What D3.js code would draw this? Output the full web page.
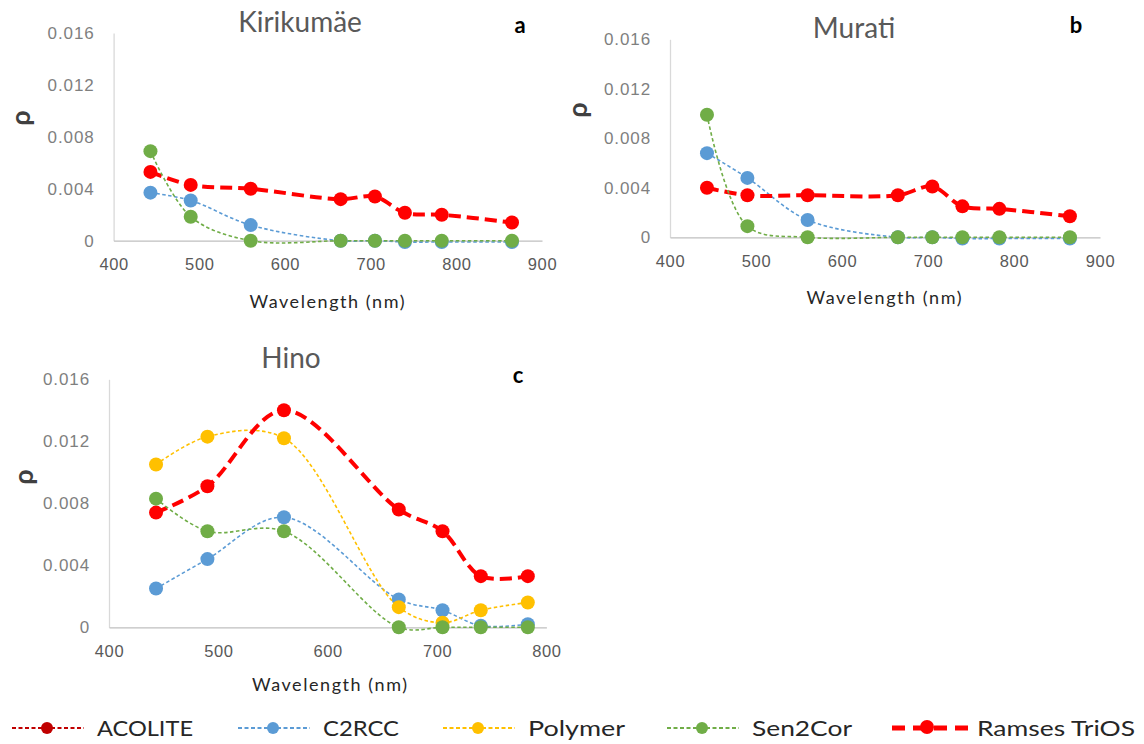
<!DOCTYPE html>
<html><head><meta charset="utf-8">
<script src="https://cdn.jsdelivr.net/npm/d3@7"></script>
<style>
body{margin:0;background:#fff;}
svg{display:block;font-family:Lato,"Open Sans",sans-serif;}
</style></head>
<body><svg id="c" width="1144" height="744"></svg>
<script>
// ---- data ----
const wavelengthsAB = [443, 490, 560, 665, 705, 740, 783, 865];
const wavelengthsC = [443, 490, 560, 665, 705, 740, 783];
const yTicks = [0, 0.004, 0.008, 0.012, 0.016];
const yTickLabels = ["0", "0.004", "0.008", "0.012", "0.016"];
const xTicksAB = [400, 500, 600, 700, 800, 900];
const xTicksC = [400, 500, 600, 700, 800];

const seriesNames = ["ACOLITE", "C2RCC", "Polymer", "Sen2Cor", "Ramses TriOS"];
const seriesColors = ["#C00000", "#5B9BD5", "#FFC000", "#70AD47", "#FF0000"];

// Kirikumäe
const kiriC2RCC = [0.0037, 0.0031, 0.0012, 0.0000, 0.0000, -0.0001, -0.0001, -0.0001];
const kiriSen2Cor = [0.0069, 0.00185, 0.0000, 0.0000, 0.0000, 0.0000, 0.0000, 0.0000];
const kiriRamses = [0.0053, 0.0043, 0.0040, 0.0032, 0.0034, 0.00215, 0.0020, 0.0014];
// Murati
const muraC2RCC = [0.0068, 0.0048, 0.0014, 0.0000, 0.0000, -0.0001, -0.0001, -0.0001];
const muraSen2Cor = [0.0099, 0.0009, 0.0000, 0.0000, 0.0000, 0.0000, 0.0000, 0.0000];
const muraRamses = [0.0040, 0.0034, 0.0034, 0.0034, 0.0041, 0.0025, 0.0023, 0.0017];
// Hino
const hinoC2RCC = [0.0025, 0.0044, 0.0071, 0.0018, 0.0011, 0.0001, 0.0002];
const hinoPolymer = [0.0105, 0.0123, 0.0122, 0.0013, 0.0003, 0.0011, 0.0016];
const hinoSen2Cor = [0.0083, 0.0062, 0.0062, 0.0000, 0.0000, 0.0000, 0.0000];
const hinoRamses = [0.0074, 0.0091, 0.0140, 0.0076, 0.0062, 0.0033, 0.0033];

const svg = d3.select("#c");

function panel(cfg) {
  const x = d3.scaleLinear().domain(cfg.xDomain).range([cfg.x0, cfg.x1]);
  const y = d3.scaleLinear().domain([0, 0.016]).range([cfg.y0, cfg.y1]);
  const g = svg.append("g");

  const ya = g.append("g").attr("transform", `translate(${cfg.x0},0)`)
    .call(d3.axisLeft(y).tickValues(yTicks).tickFormat((d, i) => yTickLabels[i]).tickSize(0).tickPadding(19));
  ya.select(".domain").attr("stroke", "#d9d9d9").attr("stroke-width", 1.3);
  ya.selectAll("text").attr("fill", "#7f7f7f").attr("font-size", 17).attr("letter-spacing", 0.9);

  const xa = g.append("g").attr("transform", `translate(0,${cfg.y0})`)
    .call(d3.axisBottom(x).tickValues(cfg.xTicks).tickSize(0).tickPadding(18));
  xa.select(".domain").attr("stroke", "#bfbfbf").attr("stroke-width", 1.3);
  xa.selectAll("text").attr("fill", "#595959").attr("font-size", 16.5).attr("letter-spacing", 0.6);

  g.append("text").attr("x", cfg.titleX).attr("y", cfg.titleY).attr("text-anchor", "middle")
    .attr("fill", "#595959").attr("font-size", 28).text(cfg.title);
  g.append("text").attr("x", cfg.letterX).attr("y", cfg.letterY).attr("text-anchor", "middle")
    .attr("fill", "#000").attr("font-size", 22).attr("font-weight", "bold").text(cfg.letter);
  g.append("text").attr("transform", `translate(${cfg.rhoX},${cfg.rhoY}) rotate(-90)`).attr("text-anchor", "middle")
    .attr("fill", "#404040").attr("font-size", 27).attr("font-weight", "bold").text("ρ");
  g.append("text").attr("x", cfg.xlabX).attr("y", cfg.xlabY).attr("text-anchor", "middle")
    .attr("fill", "#262626").attr("font-size", 18).attr("textLength", 155).attr("lengthAdjust", "spacing")
    .text("Wavelength (nm)");

  const line = d3.line().x(d => x(d[0])).y(d => y(d[1])).curve(d3.curveCatmullRom.alpha(0.5));
  cfg.series.forEach(s => {
    const pts = cfg.wl.map((w, i) => [w, s.values[i]]);
    const thick = s.name === "Ramses TriOS";
    g.append("path").datum(pts).attr("d", line).attr("fill", "none")
      .attr("stroke", s.color).attr("stroke-width", thick ? 4 : 1.6)
      .attr("stroke-dasharray", thick ? "12,6" : "3.5,2.5");
    g.selectAll(null).data(pts).enter().append("circle")
      .attr("cx", d => x(d[0])).attr("cy", d => y(d[1])).attr("r", cfg.r)
      .attr("fill", s.color);
  });
}

const col = n => seriesColors[seriesNames.indexOf(n)];

panel({
  xDomain: [400, 900], x0: 113.6, x1: 542, y0: 240.7, y1: 33, xTicks: xTicksAB, wl: wavelengthsAB,
  title: "Kirikumäe", titleX: 300, titleY: 32, letter: "a", letterX: 520, letterY: 33,
  rhoX: 30, rhoY: 118, xlabX: 327, xlabY: 308, r: 7,
  series: [
    {name: "C2RCC", color: col("C2RCC"), values: kiriC2RCC},
    {name: "Ramses TriOS", color: col("Ramses TriOS"), values: kiriRamses},
    {name: "Sen2Cor", color: col("Sen2Cor"), values: kiriSen2Cor}
  ]
});

panel({
  xDomain: [400, 900], x0: 670, x1: 1100, y0: 237.3, y1: 39.3, xTicks: xTicksAB, wl: wavelengthsAB,
  title: "Murati", titleX: 854, titleY: 38, letter: "b", letterX: 1076, letterY: 33,
  rhoX: 587, rhoY: 110, xlabX: 884, xlabY: 304, r: 7,
  series: [
    {name: "C2RCC", color: col("C2RCC"), values: muraC2RCC},
    {name: "Ramses TriOS", color: col("Ramses TriOS"), values: muraRamses},
    {name: "Sen2Cor", color: col("Sen2Cor"), values: muraSen2Cor}
  ]
});

panel({
  xDomain: [400, 800], x0: 109, x1: 546.4, y0: 627.3, y1: 379.3, xTicks: xTicksC, wl: wavelengthsC,
  title: "Hino", titleX: 291, titleY: 368, letter: "c", letterX: 518, letterY: 383,
  rhoX: 33, rhoY: 477, xlabX: 329.5, xlabY: 691, r: 7,
  series: [
    {name: "C2RCC", color: col("C2RCC"), values: hinoC2RCC},
    {name: "Polymer", color: col("Polymer"), values: hinoPolymer},
    {name: "Ramses TriOS", color: col("Ramses TriOS"), values: hinoRamses},
    {name: "Sen2Cor", color: col("Sen2Cor"), values: hinoSen2Cor}
  ]
});

// legend
const legX = [12, 238, 443, 667, 892];
const legTextW = [96, 76, 97, 100, 158];
const legY = 728;
const leg = svg.append("g");
seriesNames.forEach((n, i) => {
  const thick = n === "Ramses TriOS";
  const x0 = legX[i];
  const lw = thick ? 80 : 72;
  leg.append("line").attr("x1", x0).attr("x2", x0 + lw).attr("y1", legY).attr("y2", legY)
    .attr("stroke", seriesColors[i]).attr("stroke-width", thick ? 5 : 2)
    .attr("stroke-dasharray", thick ? "13,8" : "4,2.5");
  leg.append("circle").attr("cx", x0 + 35).attr("cy", legY - (thick ? 1 : 0))
    .attr("r", thick ? 7 : 6).attr("fill", seriesColors[i]);
  leg.append("text").attr("x", x0 + lw + (thick ? 5 : 13)).attr("y", 736).attr("font-size", 21)
    .attr("textLength", legTextW[i]).attr("lengthAdjust", "spacingAndGlyphs")
    .attr("fill", "#262626").text(n);
});
</script></body></html>
